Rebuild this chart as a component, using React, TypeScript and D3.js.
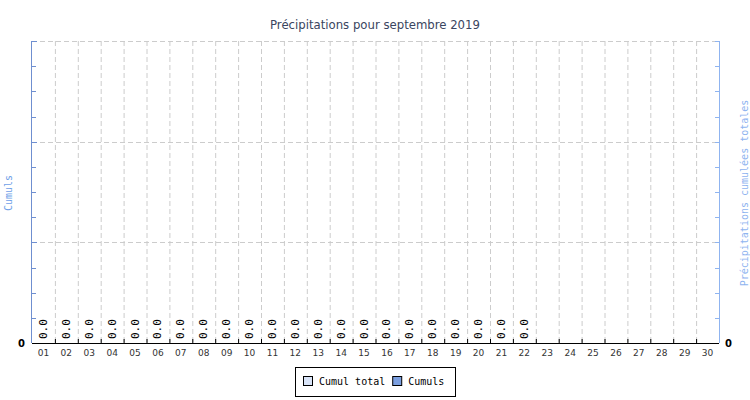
import React from "react";
import * as d3 from "d3";

const days = Array.from({ length: 30 }, (_, i) => String(i + 1).padStart(2, "0"));
const cumuls: (number | null)[] = [0,0,0,0,0,0,0,0,0,0,0,0,0,0,0,0,0,0,0,0,0,0,null,null,null,null,null,null,null,null];
const yMajorTicks = [0, 1, 2, 3];
const title = "Précipitations pour septembre 2019";
const leftLabel = "Cumuls";
const rightLabel = "Précipitations cumulées totales";
const legendItems = [
  { label: "Cumul total", color: "#d9e4f8" },
  { label: "Cumuls", color: "#7b9fe0" },
];

const W = 750, H = 400;
const M = { left: 32, right: 719, top: 41, bottom: 343 };
const mono = "'DejaVu Sans Mono', monospace";

export default function App() {
  const x = d3.scaleBand().domain(days).range([M.left, M.right]);
  const y = d3.scaleLinear().domain([0, 3]).range([M.bottom, M.top]);
  const minor = d3.range(0, 3.001, 0.25);
  const bounds = d3.range(0, days.length + 1).map((i) => M.left + i * x.step());
  return (
    <svg width={W} height={H} style={{ position: "absolute", left: 0, top: 0, background: "#fff" }}>
      <text x={375} y={29} textAnchor="middle" fontFamily="'DejaVu Sans Condensed', 'DejaVu Sans', sans-serif" fontSize={13} fill="#3a4560">{title}</text>
      {/* grid */}
      {bounds.slice(1, -1).map((bx, i) => (
        <line key={"v" + i} x1={bx + 0.5} x2={bx + 0.5} y1={M.top} y2={M.bottom} stroke="#cccccc" strokeDasharray="5,3" />
      ))}
      {yMajorTicks.slice(1).map((t) => (
        <line key={"h" + t} x1={M.left} x2={M.right} y1={Math.round(y(t)) + 0.5} y2={Math.round(y(t)) + 0.5} stroke="#cccccc" strokeDasharray="5,3" />
      ))}
      {/* left axis */}
      <line x1={M.left - 0.5} x2={M.left - 0.5} y1={M.top} y2={M.bottom} stroke="#6f8fd0" />
      {minor.map((t, i) => (
        <line key={"lt" + i} x1={M.left} x2={M.left + (t % 1 === 0 ? 5 : 4)} y1={Math.round(y(t)) + 0.5} y2={Math.round(y(t)) + 0.5} stroke="#6f8fd0" />
      ))}
      {/* right axis */}
      <line x1={M.right + 0.5} x2={M.right + 0.5} y1={M.top} y2={M.bottom} stroke="#8fb4f0" />
      {minor.map((t, i) => (
        <line key={"rt" + i} x1={M.right - 4} x2={M.right} y1={Math.round(y(t)) + 0.5} y2={Math.round(y(t)) + 0.5} stroke="#8fb4f0" />
      ))}
      {/* bottom axis */}
      <line x1={M.left} x2={M.right} y1={M.bottom + 0.5} y2={M.bottom + 0.5} stroke="#000" />
      {bounds.slice(1, -1).map((bx, i) => (
        <line key={"bt" + i} x1={bx + 0.5} x2={bx + 0.5} y1={M.bottom - 4} y2={M.bottom} stroke="#000" />
      ))}
      {days.map((d) => (
        <text key={"xl" + d} x={(x(d) as number) + x.bandwidth() / 2} y={356} textAnchor="middle" fontFamily="'DejaVu Sans', sans-serif" fontSize={9} fill="#333">{d}</text>
      ))}
      {/* value labels */}
      {days.map((d, i) =>
        cumuls[i] == null ? null : (
          <text key={"vl" + d} transform={`translate(${(x(d) as number) + x.bandwidth() / 2 + 3.5},${y(cumuls[i] as number) - 4}) rotate(-90)`} fontFamily={mono} fontSize={11} fill="#000">{(cumuls[i] as number).toFixed(1)}</text>
        )
      )}
      <text x={25} y={347} textAnchor="end" fontFamily="'DejaVu Sans', sans-serif" fontWeight="bold" fontSize={10} fill="#000">0</text>
      <text x={725} y={347} textAnchor="start" fontFamily="'DejaVu Sans', sans-serif" fontWeight="bold" fontSize={10} fill="#000">0</text>
      <text transform={`translate(12,193) rotate(-90)`} textAnchor="middle" fontFamily={mono} fontSize={10} fill="#6f9fe8">{leftLabel}</text>
      <text transform={`translate(748,193) rotate(-90)`} textAnchor="middle" fontFamily={mono} fontSize={10} fill="#8fb4f0">{rightLabel}</text>
      {/* legend */}
      <rect x={295.5} y={367.5} width={160} height={29} fill="#fff" stroke="#000" />
      {(() => {
        let cx = 303;
        return legendItems.map((it) => {
          const g = (
            <g key={it.label}>
              <rect x={cx + 0.5} y={376.5} width={9} height={9} fill={it.color} stroke="#000" />
              <text x={cx + 16} y={385} fontFamily={mono} fontSize={10} fill="#000">{it.label}</text>
            </g>
          );
          cx += 16 + it.label.length * 6.02 + 7;
          return g;
        });
      })()}
    </svg>
  );
}
